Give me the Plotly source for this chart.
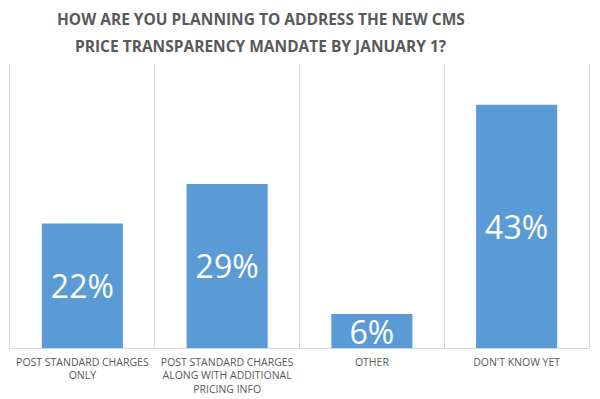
import plotly.graph_objects as go

categories = ["POST STANDARD CHARGES<br>ONLY",
              "POST STANDARD CHARGES<br>ALONG WITH ADDITIONAL<br>PRICING INFO",
              "OTHER",
              "DON'T KNOW YET"]
values = [22, 29, 6, 43]
labels = ["22%", "29%", "6%", "43%"]

title_lines = ["HOW ARE YOU PLANNING TO ADDRESS THE NEW CMS",
               "PRICE TRANSPARENCY MANDATE BY JANUARY 1?"]

fig = go.Figure(go.Bar(
    x=categories, y=values, text=labels,
    textposition="inside", insidetextanchor="middle",
    textfont=dict(family="Open Sans", size=32, color="white"),
    marker=dict(color="#5B9BD5", line=dict(width=0)),
    hoverinfo="skip",
))

title_font = dict(family="Open Sans", size=15.5, color="#595959", weight="bold")
for text, ypos in zip(title_lines, [1.158, 1.063]):
    fig.add_annotation(text=text, xref="paper", yref="paper", x=0.4335, y=ypos,
                       xanchor="center", yanchor="middle", showarrow=False,
                       font=title_font)

fig.update_layout(
    width=600, height=399,
    margin=dict(l=10, r=11, t=64, b=51),
    paper_bgcolor="white", plot_bgcolor="white",
    bargap=0.44,
    showlegend=False,
    uniformtext=dict(minsize=32, mode="show"),
)
fig.update_xaxes(
    tickson="boundaries", showgrid=True, gridcolor="#D9D9D9", gridwidth=1,
    showline=True, linecolor="#D9D9D9", linewidth=1,
    ticks="", ticklabelstandoff=4, automargin=False,
    tickfont=dict(family="Open Sans", size=10.5, color="#595959"),
)
fig.update_yaxes(
    range=[0, 50.2], showgrid=False, showticklabels=False, zeroline=False,
    showline=True, linecolor="#D9D9D9", mirror=True, linewidth=1,
    automargin=False,
)

fig.write_html("out.html", config={"displayModeBar": False},
               post_script="document.body.style.margin='0px';")
